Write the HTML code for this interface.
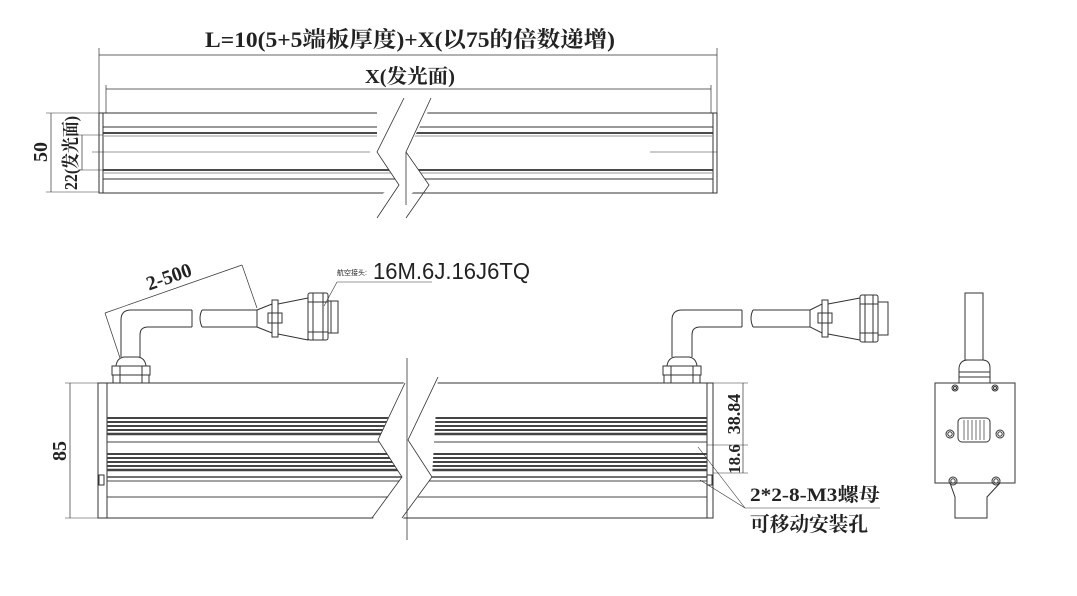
<!DOCTYPE html>
<html><head><meta charset="utf-8"><style>
html,body{margin:0;padding:0;background:#fff;width:1077px;height:596px;overflow:hidden}
svg{display:block}
.t{font-family:"Liberation Serif","Noto Serif CJK SC",serif;font-weight:bold;fill:#222}
.s{font-family:"Liberation Sans","Noto Sans CJK SC",sans-serif;fill:#222}
</style></head><body>
<svg width="1077" height="596" viewBox="0 0 1077 596" xmlns="http://www.w3.org/2000/svg">
<g stroke="#333" stroke-width="1" fill="none">
<!-- TOP VIEW -->
<line x1="99" y1="48" x2="99" y2="193" stroke-width="0.7"/>
<line x1="717" y1="48" x2="717" y2="193" stroke-width="0.7"/>
<line x1="99" y1="55" x2="717" y2="55" stroke-width="0.7"/>
<line x1="106" y1="89" x2="711" y2="89" stroke-width="0.7"/>
<line x1="106" y1="85" x2="106" y2="113" stroke-width="0.7"/>
<line x1="711" y1="85" x2="711" y2="113" stroke-width="0.7"/>
<rect x="99" y="113" width="618" height="80"/>
<line x1="103" y1="113" x2="103" y2="193"/>
<line x1="713" y1="113" x2="713" y2="193"/>
<line x1="103" y1="127" x2="713" y2="127"/>
<line x1="103" y1="133" x2="713" y2="133" stroke-width="1.8"/>
<line x1="103" y1="136" x2="713" y2="136" stroke="#999"/>
<line x1="103" y1="170" x2="713" y2="170" stroke-width="1.8"/>
<line x1="103" y1="173" x2="713" y2="173" stroke="#999"/>
<line x1="103" y1="179" x2="713" y2="179"/>
<line x1="92" y1="152" x2="370" y2="152" stroke-width="0.5"/>
<line x1="650" y1="152" x2="717" y2="152" stroke-width="0.5"/>
<polygon points="377,110 406,110 406,196 378,196 399,185 377,152" fill="#fff" stroke="none"/>
<polygon points="406,110 431,110 429,110 406,152 429,185 406,196" fill="#fff" stroke="none"/>
<polyline points="404,98 377,152 399,185 377,218" stroke-width="0.8"/>
<polyline points="431,98 406,152 429,185 406,218" stroke-width="0.8"/>
<line x1="406" y1="152" x2="406" y2="205" stroke-width="0.8"/>
<line x1="51" y1="113" x2="51" y2="192" stroke-width="0.7"/>
<line x1="46" y1="113" x2="99" y2="113" stroke-width="0.6"/>
<line x1="46" y1="192" x2="99" y2="192" stroke-width="0.6"/>
<line x1="82" y1="135" x2="82" y2="170" stroke-width="0.7"/>
<line x1="78" y1="135" x2="103" y2="135" stroke-width="0.6"/>
<line x1="78" y1="170" x2="103" y2="170" stroke-width="0.6"/>

<!-- FRONT VIEW -->
<line x1="65" y1="383" x2="98" y2="383" stroke-width="0.6"/>
<line x1="65" y1="518" x2="98" y2="518" stroke-width="0.6"/>
<line x1="70" y1="383" x2="70" y2="518" stroke-width="0.7"/>
<rect x="98" y="383" width="615" height="135"/>
<line x1="107" y1="383" x2="107" y2="518"/>
<line x1="707" y1="383" x2="707" y2="518"/>
<g stroke="#444">
<line x1="107" y1="418" x2="707" y2="418" stroke-width="2"/>
<line x1="107" y1="422" x2="707" y2="422" stroke-width="2"/>
<line x1="107" y1="426" x2="707" y2="426" stroke-width="2"/>
<line x1="107" y1="430" x2="707" y2="430" stroke-width="2"/>
<line x1="107" y1="434" x2="707" y2="434" stroke-width="2.5"/>
<line x1="107" y1="442" x2="707" y2="442"/>
<line x1="107" y1="454" x2="707" y2="454" stroke-width="2"/>
<line x1="107" y1="458" x2="707" y2="458" stroke-width="2"/>
<line x1="107" y1="462" x2="707" y2="462" stroke-width="2"/>
<line x1="107" y1="466" x2="707" y2="466" stroke-width="2"/>
<line x1="107" y1="470" x2="707" y2="470" stroke-width="2.5"/>
<line x1="107" y1="477" x2="707" y2="477" stroke-width="1.5"/>
<line x1="107" y1="481" x2="707" y2="481"/>
<line x1="107" y1="497" x2="707" y2="497"/>
</g>
<rect x="99" y="475" width="5" height="10" fill="#fff"/>
<rect x="707" y="475" width="5" height="10" fill="#fff"/>
<polygon points="405,380 438,376 432,477 402,520 372,520 402,477 378,440" fill="#fff" stroke="none"/>
<polygon points="378,440 405,440 402,477" fill="#fff" stroke="none"/>
<polyline points="405,383 378,440 402,477 372,518" stroke-width="0.8"/>
<polyline points="438,377 408,440 432,477 402,518" stroke-width="0.8"/>
<line x1="407" y1="358" x2="407" y2="540" stroke-width="0.8"/>
<line x1="713" y1="383" x2="748" y2="383" stroke-width="0.6"/>
<line x1="707" y1="445" x2="748" y2="445" stroke-width="0.6"/>
<line x1="713" y1="473" x2="748" y2="473" stroke-width="0.6"/>
<line x1="743" y1="383" x2="743" y2="473" stroke-width="0.7"/>

<!-- left cable -->
<rect x="113" y="375" width="36" height="8"/>
<rect x="112" y="366" width="38" height="9"/>
<line x1="120" y1="366" x2="120" y2="383"/><line x1="142" y1="366" x2="142" y2="383"/>
<path d="M116,366 Q117,358 124,357 L138,357 Q145,358 146,366"/>
<path d="M121,357 L121,320 Q121,310 131,310 L192,310 M140,357 L140,335 Q140,327 148,327 L192,327 M192,310 L192,327"/>
<path d="M202,310 L257,310 M202,327 L257,327 M202,310 Q198,318 202,327"/>
<path d="M257,310 L272,304 L272,333 L257,327 Z"/>
<rect x="272" y="300" width="6" height="37"/>
<rect x="268" y="313" width="14" height="10"/>
<path d="M278,304 L308,298 L308,340 L278,334"/>
<rect x="308" y="293" width="20" height="47" rx="2"/>
<line x1="308" y1="302" x2="328" y2="302"/><line x1="308" y1="332" x2="328" y2="332"/>
<line x1="313" y1="293" x2="313" y2="340"/><line x1="323" y1="293" x2="323" y2="340"/>
<rect x="328" y="301" width="10" height="32"/>
<line x1="331" y1="301" x2="331" y2="333"/>
<!-- right cable -->
<rect x="664" y="375" width="36" height="8"/>
<rect x="663" y="366" width="38" height="9"/>
<line x1="671" y1="366" x2="671" y2="383"/><line x1="693" y1="366" x2="693" y2="383"/>
<path d="M667,366 Q668,358 675,357 L689,357 Q696,358 697,366"/>
<path d="M672,357 L672,320 Q672,310 682,310 L742,310 M692,357 L692,335 Q692,327 700,327 L742,327 M742,310 L742,327"/>
<path d="M753,310 L810,310 M753,327 L810,327 M753,310 Q749,318 753,327"/>
<path d="M810,310 L822,304 L822,333 L810,327 Z"/>
<rect x="822" y="300" width="6" height="37"/>
<rect x="818" y="313" width="14" height="10"/>
<path d="M828,304 L860,298 L860,340 L828,334"/>
<rect x="860" y="295" width="18" height="47" rx="2"/>
<line x1="860" y1="304" x2="878" y2="304"/><line x1="860" y1="333" x2="878" y2="333"/>
<line x1="865" y1="295" x2="865" y2="342"/><line x1="873" y1="295" x2="873" y2="342"/>
<rect x="878" y="302" width="10" height="33"/>

<!-- 2-500 dim -->
<line x1="105" y1="313" x2="242" y2="265" stroke-width="0.7"/>
<line x1="105" y1="313" x2="120" y2="358" stroke-width="0.7"/>
<line x1="242" y1="265" x2="257" y2="308" stroke-width="0.7"/>
<!-- connector leader -->
<line x1="337" y1="282" x2="432" y2="282" stroke-width="0.6"/>
<line x1="337" y1="282" x2="324" y2="306" stroke-width="0.6"/>
<!-- nut leader -->
<line x1="745" y1="508" x2="880" y2="508" stroke-width="0.6"/>
<line x1="745" y1="508" x2="698" y2="447" stroke-width="0.6"/>
<line x1="745" y1="508" x2="700" y2="480" stroke-width="0.6"/>

<!-- SIDE VIEW -->
<rect x="965" y="293" width="18" height="67"/>
<path d="M959,383 L959,368 Q960,360 968,360 L982,360 Q990,360 990,368 L990,383"/>
<line x1="959" y1="372" x2="990" y2="372"/><line x1="959" y1="377" x2="990" y2="377"/>
<rect x="935" y="383" width="80" height="100"/>
<path d="M950,483 L955,497 L955,518 L987,518 L987,497 L1000,483"/>
<rect x="958" y="418" width="32" height="24" rx="4"/>
<g stroke-width="0.7"><line x1="964" y1="420" x2="964" y2="440"/><line x1="968" y1="420" x2="968" y2="440"/><line x1="972" y1="420" x2="972" y2="440"/><line x1="976" y1="420" x2="976" y2="440"/><line x1="980" y1="420" x2="980" y2="440"/><line x1="984" y1="420" x2="984" y2="440"/></g>
<circle cx="955" cy="388" r="3"/><circle cx="955" cy="388" r="1.5"/>
<circle cx="995" cy="388" r="3"/><circle cx="995" cy="388" r="1.5"/>
<circle cx="950" cy="434" r="4"/><circle cx="950" cy="434" r="2.2"/>
<circle cx="1000" cy="434" r="4"/><circle cx="1000" cy="434" r="2.2"/>
<circle cx="953" cy="481" r="4"/><circle cx="953" cy="481" r="2.2"/>
<circle cx="996" cy="481" r="4"/><circle cx="996" cy="481" r="2.2"/>
</g>

<!-- TEXT -->
<text class="t" x="205" y="47" font-size="22" textLength="410" lengthAdjust="spacingAndGlyphs">L=10(5+5端板厚度)+X(以75的倍数递增)</text>
<text class="t" x="365" y="83" font-size="20" textLength="90" lengthAdjust="spacingAndGlyphs">X(发光面)</text>
<text class="t" font-size="20" transform="translate(47,152) rotate(-90)" text-anchor="middle">50</text>
<text class="t" font-size="18" transform="translate(77,153) rotate(-90)" text-anchor="middle" textLength="74" lengthAdjust="spacingAndGlyphs">22(发光面)</text>
<text class="t" font-size="20" transform="translate(66,451) rotate(-90)" text-anchor="middle">85</text>
<text class="t" font-size="18" transform="translate(740,414) rotate(-90)" text-anchor="middle">38.84</text>
<text class="t" font-size="17" transform="translate(740,459) rotate(-90)" text-anchor="middle">18.6</text>
<text class="t" font-size="20" transform="translate(171,283) rotate(-19)" text-anchor="middle">2-500</text>
<text class="s" x="337" y="275" font-size="7">航空接头:</text>
<text class="s" x="373" y="279" font-size="23" textLength="157" lengthAdjust="spacingAndGlyphs">16M.6J.16J6TQ</text>
<text class="t" x="750" y="501" font-size="19" textLength="130" lengthAdjust="spacingAndGlyphs">2*2-8-M3螺母</text>
<text class="t" x="750" y="531" font-size="20" textLength="118" lengthAdjust="spacingAndGlyphs">可移动安装孔</text>
</svg>
</body></html>
